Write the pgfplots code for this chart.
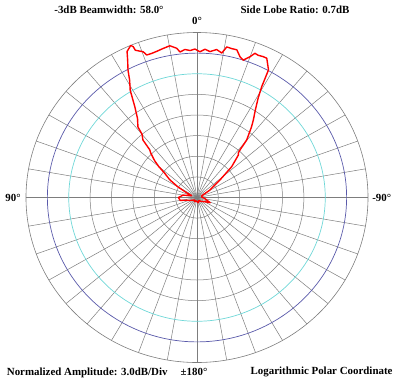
\documentclass[border=0pt,11pt]{standalone}
\usepackage{pgfplots}
\pgfplotsset{compat=1.18}
\usepackage{fontspec}
\setmainfont{Liberation Serif}
\definecolor{ringblue}{RGB}{90,90,170}
\definecolor{ringcyan}{RGB}{110,215,215}
\definecolor{gridgray}{RGB}{125,125,125}
\begin{document}
\begin{tikzpicture}
\begin{axis}[
  x=171bp, y=165bp,
  xmin=-1.1520, xmax=1.1637, ymin=-1.1061, ymax=1.1970,
  axis lines=none, clip=false,
]
\path (rel axis cs:0,0) rectangle (rel axis cs:1,1);
\draw[gridgray, line width=0.5bp] (axis cs:0,0) -- (axis cs:0,1);
\draw[gridgray, line width=0.5bp] (axis cs:0,0) -- (axis cs:0,-1);
\draw[gridgray, line width=0.5bp] (axis cs:0,0) -- (axis cs:1,0);
\draw[gridgray, line width=0.5bp] (axis cs:0,0) -- (axis cs:-1,0);
\draw[gridgray, line width=0.5bp] (axis cs:-0.17365,-0.98481) -- (axis cs:0.17365,0.98481);
\draw[gridgray, line width=0.5bp] (axis cs:-0.34202,-0.93969) -- (axis cs:0.34202,0.93969);
\draw[gridgray, line width=0.5bp] (axis cs:-0.5,-0.86603) -- (axis cs:0.5,0.86603);
\draw[gridgray, line width=0.5bp] (axis cs:-0.64279,-0.76604) -- (axis cs:0.64279,0.76604);
\draw[gridgray, line width=0.5bp] (axis cs:-0.76604,-0.64279) -- (axis cs:0.76604,0.64279);
\draw[gridgray, line width=0.5bp] (axis cs:-0.86603,-0.5) -- (axis cs:0.86603,0.5);
\draw[gridgray, line width=0.5bp] (axis cs:-0.93969,-0.34202) -- (axis cs:0.93969,0.34202);
\draw[gridgray, line width=0.5bp] (axis cs:-0.98481,-0.17365) -- (axis cs:0.98481,0.17365);
\draw[gridgray, line width=0.5bp] (axis cs:0.17365,-0.98481) -- (axis cs:-0.17365,0.98481);
\draw[gridgray, line width=0.5bp] (axis cs:0.34202,-0.93969) -- (axis cs:-0.34202,0.93969);
\draw[gridgray, line width=0.5bp] (axis cs:0.5,-0.86603) -- (axis cs:-0.5,0.86603);
\draw[gridgray, line width=0.5bp] (axis cs:0.64279,-0.76604) -- (axis cs:-0.64279,0.76604);
\draw[gridgray, line width=0.5bp] (axis cs:0.76604,-0.64279) -- (axis cs:-0.76604,0.64279);
\draw[gridgray, line width=0.5bp] (axis cs:0.86603,-0.5) -- (axis cs:-0.86603,0.5);
\draw[gridgray, line width=0.5bp] (axis cs:0.93969,-0.34202) -- (axis cs:-0.93969,0.34202);
\draw[gridgray, line width=0.5bp] (axis cs:0.98481,-0.17365) -- (axis cs:-0.98481,0.17365);
\draw[gridgray, line width=0.6bp] (axis cs:0,0) ellipse [x radius=171bp, y radius=165bp];
\draw[ringblue, line width=0.7bp] (axis cs:0,0) ellipse [x radius=149.625bp, y radius=144.375bp];
\draw[ringcyan, line width=0.7bp] (axis cs:0,0) ellipse [x radius=128.25bp, y radius=123.75bp];
\draw[gridgray, line width=0.5bp] (axis cs:0,0) ellipse [x radius=106.875bp, y radius=103.125bp];
\draw[gridgray, line width=0.5bp] (axis cs:0,0) ellipse [x radius=85.5bp, y radius=82.5bp];
\draw[gridgray, line width=0.5bp] (axis cs:0,0) ellipse [x radius=64.125bp, y radius=61.875bp];
\draw[gridgray, line width=0.5bp] (axis cs:0,0) ellipse [x radius=42.75bp, y radius=41.25bp];
\draw[gridgray, line width=0.5bp] (axis cs:0,0) ellipse [x radius=21.375bp, y radius=20.625bp];
\addplot[red, line width=1.4bp, line join=round] table[
  x expr={-(\thisrow{db}+24)/24*sin(\thisrow{ang})},
  y expr={(\thisrow{db}+24)/24*cos(\thisrow{ang})}
] {
ang db
-180 -23.4
-165 -23.2
-150 -23.5
-135 -23.2
-120 -22.8
-112 -22.0
-105 -22.6
-95 -23.0
-85 -23.3
-70 -23.3
-59.1 -21.9
-51.7 -19.9
-47.4 -17.4
-43.2 -15.5
-41.8 -15.3
-41.1 -14.8
-39.8 -13.1
-36.7 -11.2
-35.0 -10.2
-33.1 -9.1
-30.7 -7.2
-29.4 -5.5
-28.4 -2.9
-25.8 -1.5
-24.4 -1.5
-22.5 -1.6
-21.2 -1.5
-20.0 -2.2
-19.0 -2.6
-18.0 -3.0
-16.4 -2.65
-14.6 -1.8
-12.7 -1.8
-10.8 -1.7
-9.4 -2.7
-7.3 -2.3
-4.9 -2.7
-3.0 -2.4
-1.1 -2.8
0.75 -2.4
2.6 -2.6
4.5 -2.4
6.4 -2.7
7.5 -2.1
9.8 -1.6
12.3 -1.8
14.9 -2.0
16.9 -2.1
18.8 -2.1
19.6 -1.5
22.0 -0.9
22.2 -0.3
22.8 0
24.8 -0.6
26 -1.8
27.6 -3.1
29 -4.5
31 -5.8
33.5 -8.2
36 -9.8
38.9 -10.8
40 -12.0
42.2 -12.7
43.7 -14.4
45 -14.8
48 -16.0
50 -17.0
52 -18.2
56 -19.4
60 -20.9
65 -22.5
70 -23.2
80 -22.0
90 -21.4
100 -21.6
105 -22.5
110 -22.8
120 -23.2
135 -23.5
150 -23.3
165 -23.5
180 -23.4
};
\node[font=\bfseries] at (axis cs:-0.5146,1.1406) {-3dB Beamwidth: 58.0\textdegree};
\node[font=\bfseries] at (axis cs:0.5731,1.1406) {Side Lobe Ratio: 0.7dB};
\node[font=\bfseries] at (axis cs:0,1.0697) {0\textdegree};
\node[font=\bfseries] at (axis cs:-1.0760,0) {90\textdegree};
\node[font=\bfseries] at (axis cs:1.0801,0) {-90\textdegree};
\node[font=\bfseries] at (axis cs:-0.0175,-1.0600) {\textpm180\textdegree};
\node[font=\bfseries, anchor=west, inner xsep=0pt] at (axis cs:-1.1129,-1.0600) {Normalized Amplitude: 3.0dB/Div};
\node[font=\bfseries, anchor=east, inner xsep=0pt] at (axis cs:1.1444,-1.0600) {Logarithmic Polar Coordinate};
\end{axis}
\end{tikzpicture}
\end{document}
